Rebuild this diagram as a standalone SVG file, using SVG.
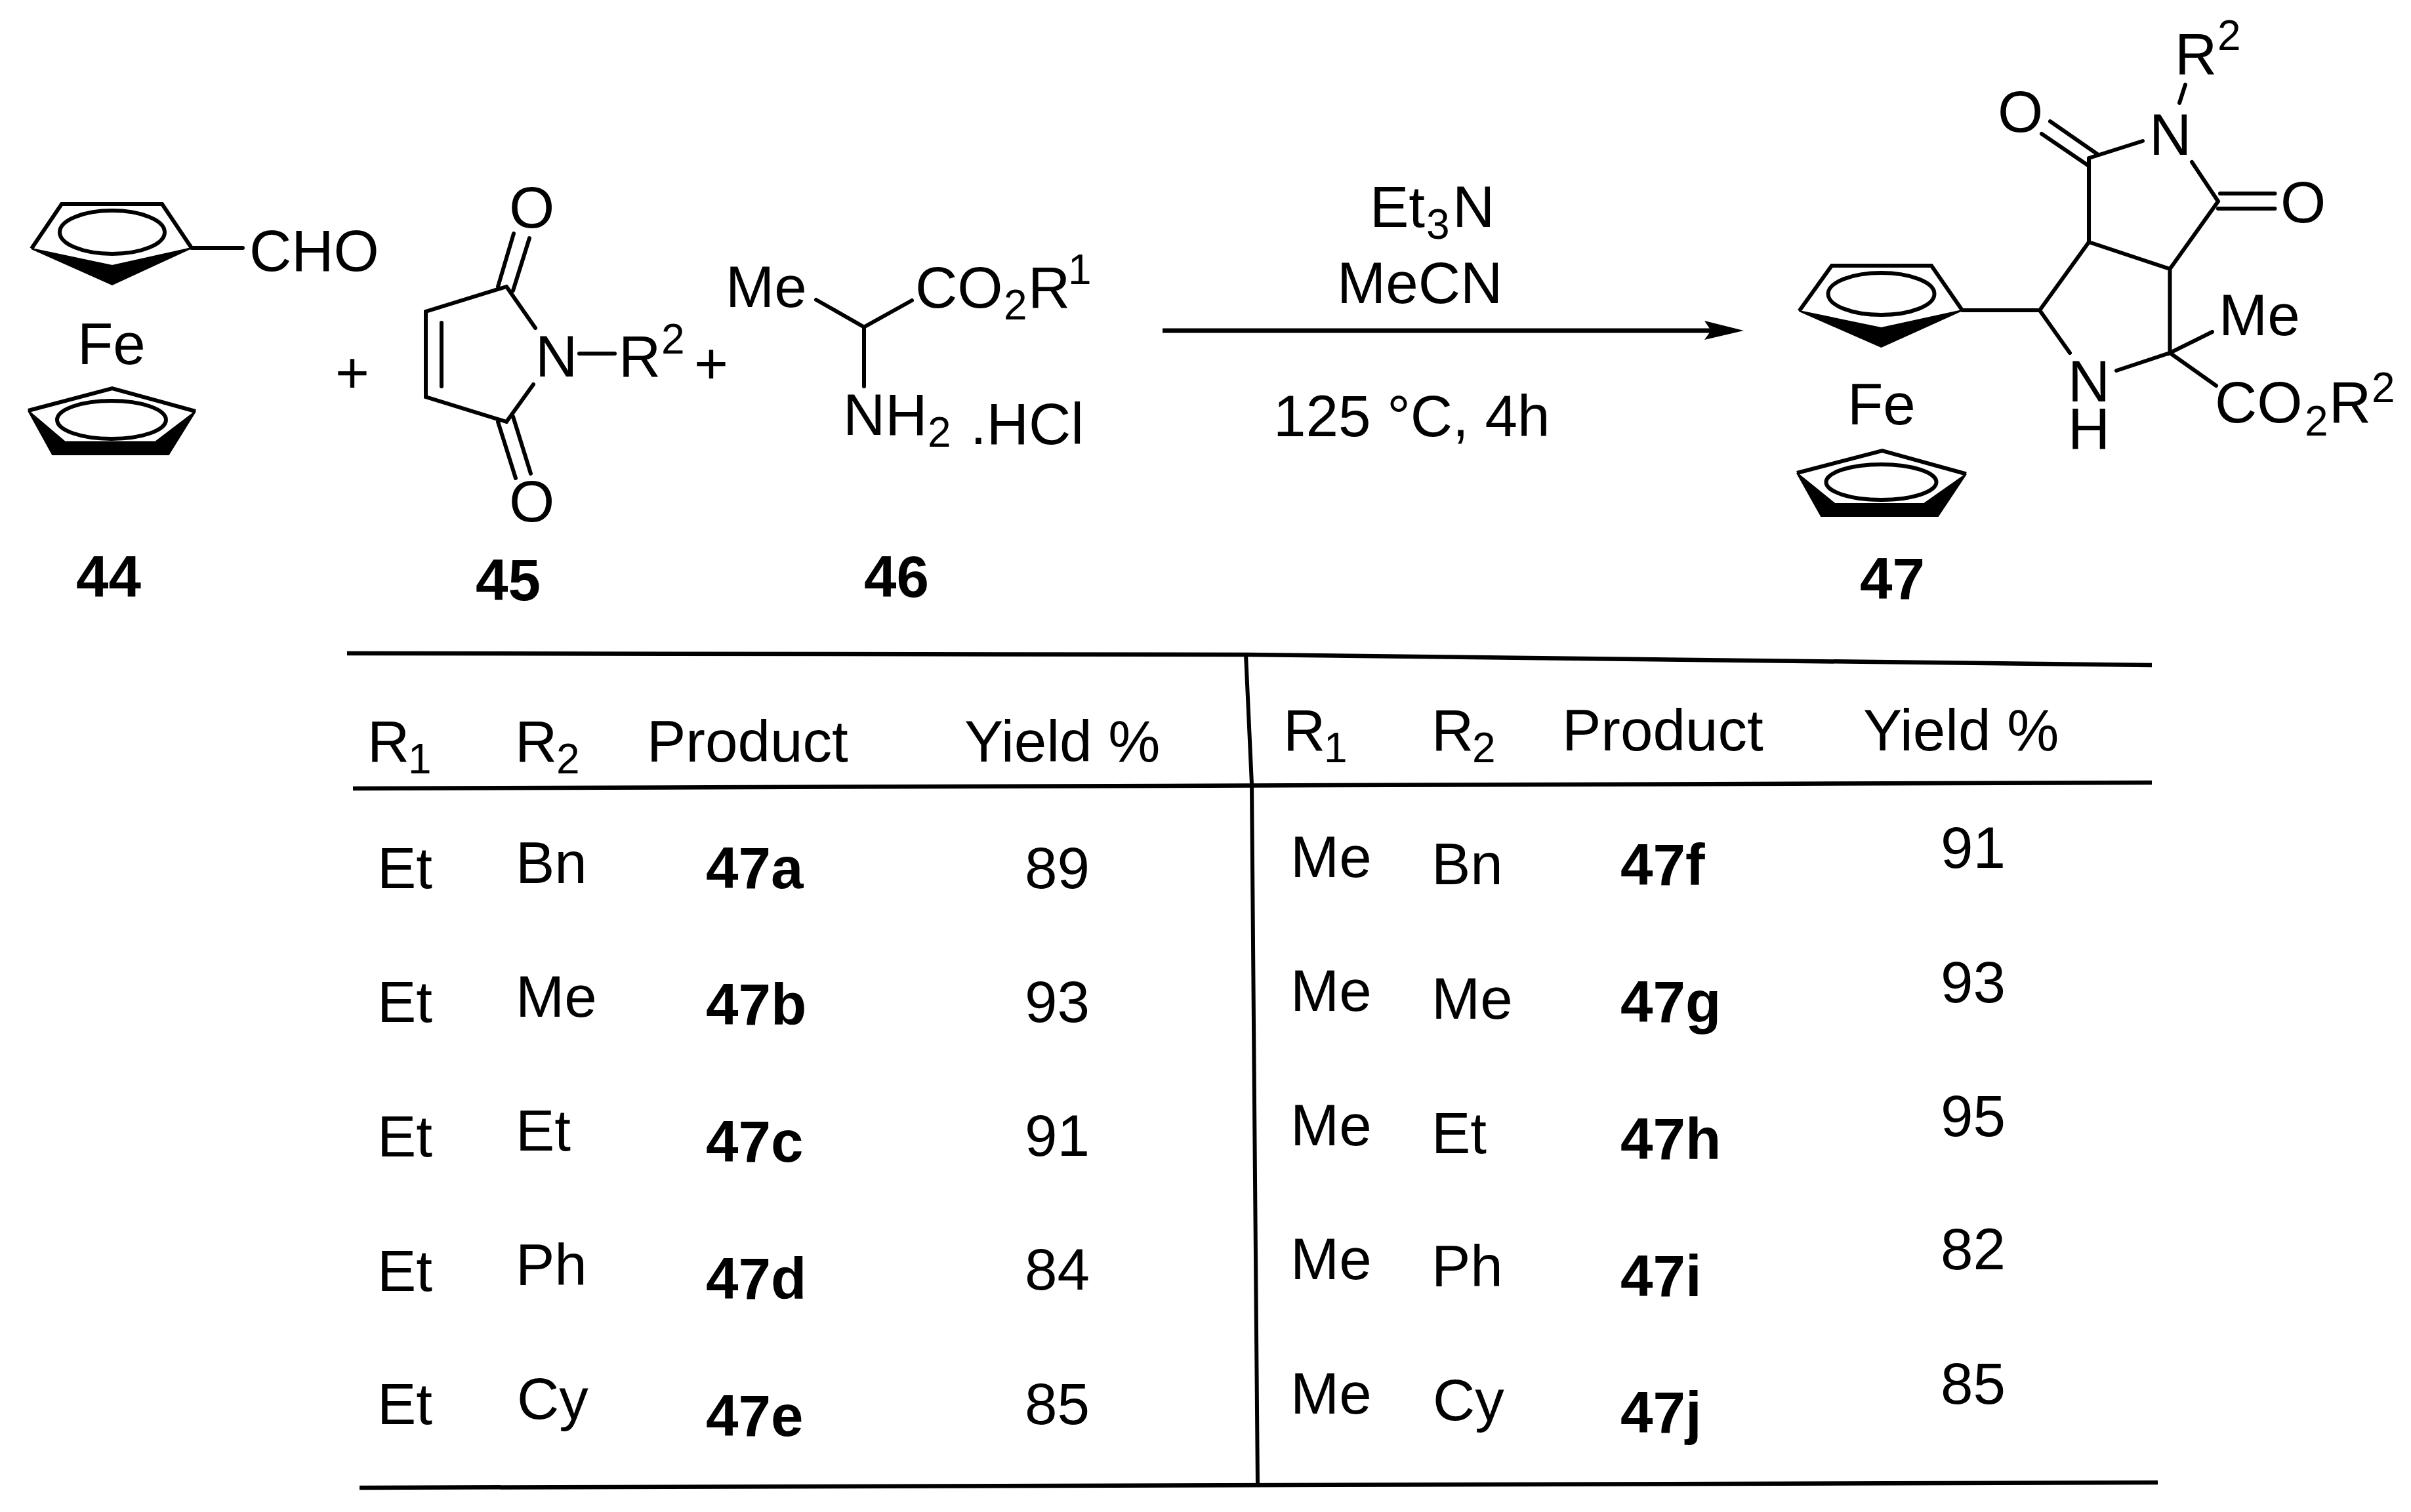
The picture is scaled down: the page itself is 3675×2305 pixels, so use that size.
<svg xmlns="http://www.w3.org/2000/svg" width="3675" height="2305" viewBox="0 0 3675 2305">
<style>
text{font-family:"Liberation Sans",Arial,sans-serif;font-size:89px;fill:#000}
.b{font-weight:700}
.s{font-size:64px}
.bond{fill:none;stroke:#000;stroke-width:6;stroke-linecap:round;stroke-linejoin:miter}
.ring{fill:none;stroke:#000;stroke-width:6}
.wedge{fill:#000;stroke:#000;stroke-width:2;stroke-linejoin:miter}
.rule{fill:none;stroke:#000;stroke-width:6.5}
</style>
<defs>
<marker id="head" markerUnits="userSpaceOnUse" markerWidth="64" markerHeight="32" refX="10" refY="15" orient="auto" overflow="visible"><path d="M0 0L60 15L0 29L10 15Z" fill="#000"/></marker>
</defs>
<rect width="3675" height="2305" fill="#fff"/>

<g id="compound-44">
<polyline class="ring" points="48,379 94,311 247,311 292,378"/>
<polygon class="wedge" points="48,379 171,434 292,378 171,405"/>
<ellipse class="ring" cx="171" cy="354" rx="80" ry="33"/>
<path class="bond" d="M292 378H370"/>
<text x="380" y="413">CHO</text>
<text x="118" y="555">Fe</text>
<polyline class="ring" points="43,626 171,592 298,627"/>
<polygon class="wedge" points="43,626 80,693 257,693 298,627 237,673.5 99,673.5"/>
<ellipse class="ring" cx="170" cy="640" rx="83" ry="29"/>
<text class="b" x="116" y="910">44</text>
</g>

<g id="plus-1"><text x="537" y="599" text-anchor="middle">+</text></g>

<g id="compound-45">
<path class="bond" d="M772 437L649 475V605L772 643M673 492V589M772 437L816 500M772 643L813 586M759 437L783 356M782 443L807 363M759 643L786 729M782 635L809 722M883 539H937"/>
<text x="776" y="347">O</text>
<text x="776" y="795">O</text>
<text x="816" y="574">N</text>
<text x="943" y="574">R<tspan class="s" x="1008" y="539">2</tspan></text>
<text class="b" x="725" y="915">45</text>
</g>

<g id="plus-2"><text x="1084" y="585" text-anchor="middle">+</text></g>

<g id="compound-46">
<path class="bond" d="M1244 457L1317 498.5L1390 458M1317 498.5V589"/>
<text x="1106" y="468">Me</text>
<text x="1395" y="469">CO<tspan class="s" x="1530" y="487">2</tspan><tspan x="1567" y="469">R</tspan><tspan class="s" x="1628" y="433">1</tspan></text>
<text x="1285" y="663">NH<tspan class="s" x="1414" y="681">2</tspan></text>
<text x="1479" y="677">.HCl</text>
<text class="b" x="1317" y="910">46</text>
</g>

<g id="connectors">
<line x1="1772" y1="504" x2="2608" y2="504" stroke="#000" stroke-width="7" marker-end="url(#head)"/>
</g>

<g id="conditions">
<text x="2088" y="346">Et<tspan class="s" x="2174" y="364">3</tspan><tspan x="2214" y="346">N</tspan></text>
<text x="2038" y="462">MeCN</text>
<text x="1941" y="665">125 °C, 4h</text>
</g>

<g id="compound-47">
<polyline class="ring" points="2742.5,474 2792,405 2944,405 2991,473"/>
<polygon class="wedge" points="2742.5,474 2867.5,529 2991,473 2867.5,500"/>
<ellipse class="ring" cx="2867.5" cy="448" rx="81" ry="32"/>
<path class="bond" d="M2991 473H3109L3184 369V241M3109 473L3155 538M3184 369L3307.5 410L3381 307M3307.5 410V538L3372 506M3307.5 538L3378 588M3307.5 538L3226 565M3184 241L3266 215M3341 247L3381 307M3184 253L3112 204M3197 235L3125 185M3384 295H3467.5M3381 318H3467.5M3322 157L3331 129"/>
<text x="3315" y="113">R<tspan class="s" x="3380" y="76">2</tspan></text>
<text x="3045" y="201">O</text>
<text x="3276" y="236">N</text>
<text x="3476" y="339">O</text>
<text x="3382" y="511">Me</text>
<text x="3152" y="612">N<tspan x="3152" y="684">H</tspan></text>
<text x="3376" y="644">CO<tspan class="s" x="3513" y="664">2</tspan><tspan x="3550" y="644">R</tspan><tspan class="s" x="3615" y="613">2</tspan></text>
<text x="2816" y="647">Fe</text>
<polyline class="ring" points="2739,721 2869,687 2997,722.5"/>
<polygon class="wedge" points="2739,721 2776,787 2954,787 2997,722.5 2932.5,768 2797,768"/>
<ellipse class="ring" cx="2867.5" cy="735" rx="84" ry="27"/>
<text class="b" x="2835" y="913">47</text>
</g>

<g id="table-rules">
<polyline class="rule" points="529,996 1900,998 3280,1014"/>
<line class="rule" x1="538" y1="1202" x2="3280" y2="1193"/>
<line class="rule" x1="548" y1="2268" x2="3289" y2="2260"/>
<polyline class="rule" style="stroke-width:6" points="1899,998 1908,1195 1912,1680 1917,2264"/>
</g>

<g id="table-left">
<text x="560" y="1161">R<tspan class="s" x="622" y="1179">1</tspan></text>
<text x="785" y="1161">R<tspan class="s" x="848" y="1179">2</tspan></text>
<text x="986" y="1161">Product</text>
<text x="1470" y="1161">Yield %</text>
<text x="575" y="1354">Et</text><text x="786" y="1346">Bn</text><text class="b" x="1076" y="1354">47a</text><text x="1562" y="1354">89</text>
<text x="575" y="1558">Et</text><text x="786" y="1550">Me</text><text class="b" x="1076" y="1562">47b</text><text x="1562" y="1558">93</text>
<text x="575" y="1763">Et</text><text x="786" y="1754">Et</text><text class="b" x="1076" y="1771">47c</text><text x="1562" y="1762">91</text>
<text x="575" y="1968">Et</text><text x="786" y="1959">Ph</text><text class="b" x="1076" y="1980">47d</text><text x="1562" y="1966">84</text>
<text x="575" y="2171">Et</text><text x="788" y="2163">Cy</text><text class="b" x="1076" y="2189">47e</text><text x="1562" y="2171">85</text>
</g>

<g id="table-right">
<text x="1956" y="1144">R<tspan class="s" x="2018" y="1162">1</tspan></text>
<text x="2182" y="1144">R<tspan class="s" x="2244" y="1162">2</tspan></text>
<text x="2381" y="1144">Product</text>
<text x="2840" y="1144">Yield %</text>
<text x="1967" y="1337">Me</text><text x="2182" y="1348">Bn</text><text class="b" x="2470" y="1349">47f</text><text x="2958" y="1323">91</text>
<text x="1967" y="1541">Me</text><text x="2182" y="1553">Me</text><text class="b" x="2470" y="1558">47g</text><text x="2958" y="1528">93</text>
<text x="1967" y="1746">Me</text><text x="2182" y="1758">Et</text><text class="b" x="2470" y="1767">47h</text><text x="2958" y="1732">95</text>
<text x="1967" y="1950">Me</text><text x="2182" y="1961">Ph</text><text class="b" x="2470" y="1976">47i</text><text x="2958" y="1935">82</text>
<text x="1967" y="2155">Me</text><text x="2184" y="2165">Cy</text><text class="b" x="2470" y="2184">47j</text><text x="2958" y="2140">85</text>
</g>
</svg>
